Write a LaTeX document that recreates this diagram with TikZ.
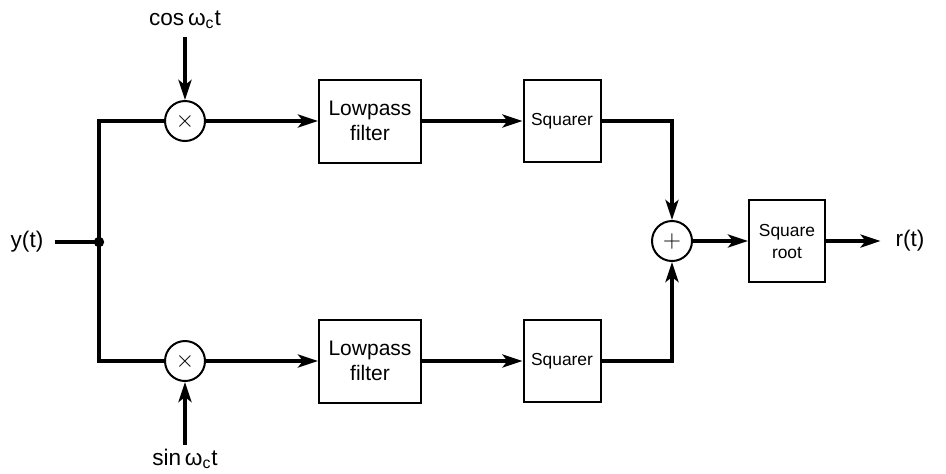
\documentclass[tikz,border=0pt]{standalone}
\usepackage{fontspec}
\setmainfont{Liberation Sans}
\usetikzlibrary{arrows.meta}

\begin{document}
\begin{tikzpicture}[x=0.5pt, y=-0.5pt, line width=2pt,
    >={Stealth[length=10pt, width=6.5pt, inset=2.5pt]}]
  % Stili dei blocchi
  \tikzset{blocco/.style={rectangle, draw, line width=1pt, inner sep=0pt, align=center,
             font=\fontsize{10.5}{12.5}\selectfont},
           bloccopic/.style={blocco, font=\fontsize{8.7}{11}\selectfont},
           mixer/.style={circle, draw, line width=1pt, minimum size=20pt, inner sep=0pt,
             font=\large},
           etichetta/.style={font=\fontsize{11.3}{13}\selectfont}}

  \useasboundingbox (0,0) rectangle (946,473);

  % Ingresso e biforcazione
  \node[etichetta, inner sep=4.7pt] (yin) at (27,242) {y(t)};
  \coordinate (j) at (99,242);
  \coordinate (ja) at (99,121);
  \coordinate (jb) at (99,361);

  % Ramo superiore
  \node[mixer] (m1) at (185,121) {$\times$};
  \node[etichetta, anchor=south, inner sep=3pt] (cos) at (185,37) {cos\,ω\textsubscript{c}t};
  \node[blocco, minimum width=51pt, minimum height=41.5pt] (lp1) at (370,121) {Lowpass\\filter};
  \node[bloccopic, minimum width=38.5pt, minimum height=41pt] (sq1) at (562,121) {Squarer};

  % Ramo inferiore
  \node[mixer] (m2) at (185,361) {$\times$};
  \node[etichetta, anchor=north, inner sep=1pt] (sin) at (185,445) {sin\,ω\textsubscript{c}t};
  \node[blocco, minimum width=51pt, minimum height=41.5pt] (lp2) at (370,361) {Lowpass\\filter};
  \node[bloccopic, minimum width=38.5pt, minimum height=41pt] (sq2) at (562,361) {Squarer};

  % Somma e radice
  \node[mixer] (sum) at (672,241) {$+$};
  \node[bloccopic, minimum width=38pt, minimum height=41pt] (rad) at (787,241) {Square\\root};
  \node[etichetta, inner sep=6.5pt] (rout) at (910,241) {r(t)};

  % Collegamenti
  \draw (yin) -- (j);
  \draw (m1) -- (ja) -- (jb) -- (m2);
  \fill (j) circle (2.6pt);
  \draw[->] (cos) -- (m1);
  \draw[->] (sin) -- (m2);
  \draw[->] (m1) -- (lp1);
  \draw[->] (m2) -- (lp2);
  \draw[->] (lp1) -- (sq1);
  \draw[->] (lp2) -- (sq2);
  \draw[->] (sq1) -| (sum);
  \draw[->] (sq2) -| (sum);
  \draw[->] (sum) -- (rad);
  \draw[->] (rad) -- (rout);
\end{tikzpicture}
\end{document}
